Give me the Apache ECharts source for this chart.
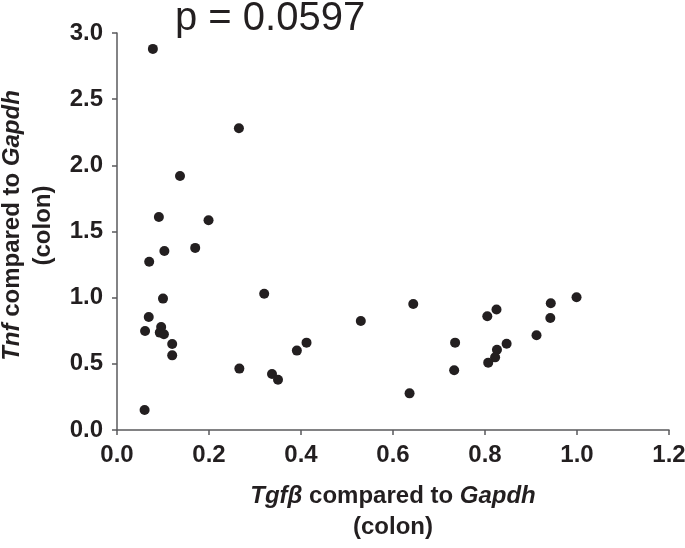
<!DOCTYPE html>
<html>
<head>
<meta charset="utf-8">
<script src="https://cdn.jsdelivr.net/npm/echarts@6/dist/echarts.min.js"></script>
<style>html,body{margin:0;padding:0;background:#fff}#c{width:685px;height:548px}</style>
</head>
<body>
<div id="c"></div>
<script>
const tgfb = [0.078,0.265,0.137,0.091,0.199,0.070,0.103,0.170,0.320,0.100,0.069,0.061,0.096,0.093,0.102,0.120,0.120,0.266,0.337,0.350,0.391,0.412,0.530,0.060,0.644,0.636,0.735,0.733,0.805,0.825,0.826,0.822,0.807,0.847,0.912,0.942,0.943,0.999];
const tnf  = [2.88,2.28,1.92,1.61,1.585,1.272,1.353,1.376,1.030,0.993,0.854,0.748,0.779,0.736,0.723,0.650,0.564,0.464,0.423,0.380,0.600,0.660,0.824,0.151,0.952,0.277,0.660,0.451,0.859,0.910,0.607,0.549,0.509,0.652,0.716,0.847,0.958,1.003];
const xTicks = ['0.0','0.2','0.4','0.6','0.8','1.0','1.2'];
const yTicks = ['0.0','0.5','1.0','1.5','2.0','2.5','3.0'];
const pText = 'p = 0.0597';

const FONT = '"Liberation Sans", Arial, sans-serif';
const TXT = '#231f20';
const AX = '#5a5a5c';
const pts = tgfb.map((x,i)=>[x,tnf[i]]);
const chart = echarts.init(document.getElementById('c'));
function nameStyle(pad) {
  return {
    fontFamily: FONT, fontSize: 24, fontWeight: 'bold', color: TXT, lineHeight: 31, align: 'center',
    padding: pad,
    rich: { i: { fontFamily: FONT, fontSize: 24, fontWeight: 'bold', fontStyle: 'italic', color: TXT, lineHeight: 31 } }
  };
}
chart.setOption({
  animation: false,
  backgroundColor: '#fff',
  grid: { left: 117, right: 16, top: 33, bottom: 118, containLabel: false, outerBoundsMode: 'none' },
  graphic: [{
    type: 'text', left: 175, top: -1,
    style: { text: pText, font: '40px ' + FONT, fill: TXT }
  }],
  xAxis: {
    type: 'value', min: 0, max: 1.2, interval: 0.2,
    name: '{i|Tgfβ} compared to {i|Gapdh}\n(colon)',
    nameLocation: 'middle', nameGap: 51, nameTextStyle: nameStyle([0, 0, 0, 0]),
    axisLine: { show: true, onZero: false, lineStyle: { color: AX, width: 1.5 } },
    axisTick: { show: true, length: 5, lineStyle: { color: AX, width: 1.5 } },
    splitLine: { show: false },
    axisLabel: { margin: 13, fontFamily: FONT, fontSize: 24, fontWeight: 'bold', color: TXT,
      formatter: (v) => xTicks[Math.round(v / 0.2)] }
  },
  yAxis: {
    type: 'value', min: 0, max: 3, interval: 0.5,
    name: '{i|Tnf} compared to {i|Gapdh}\n(colon)',
    nameLocation: 'middle', nameRotate: 90, nameGap: 58, nameTextStyle: nameStyle([0, 0, 0, 12]),
    axisLine: { show: true, onZero: false, lineStyle: { color: AX, width: 1.5 } },
    axisTick: { show: true, length: 5, lineStyle: { color: AX, width: 1.5 } },
    splitLine: { show: false },
    axisLabel: { margin: 14, fontFamily: FONT, fontSize: 24, fontWeight: 'bold', color: TXT,
      formatter: (v) => yTicks[Math.round(v / 0.5)] }
  },
  series: [{
    type: 'scatter', data: pts, symbol: 'circle', symbolSize: 10,
    itemStyle: { color: TXT, opacity: 1 }
  }]
});
</script>
</body>
</html>
